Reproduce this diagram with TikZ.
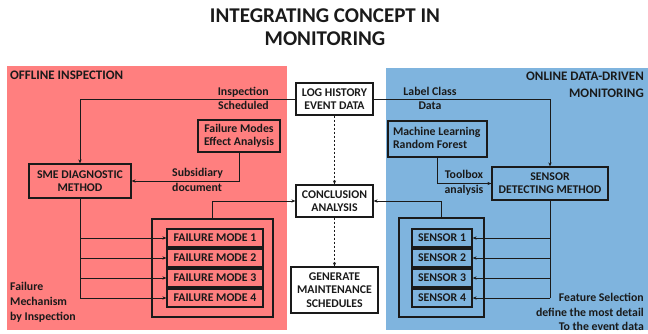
\documentclass[tikz,border=0pt]{standalone}
\usepackage{fontspec}
\setmainfont{Carlito}
\usetikzlibrary{arrows.meta}
\definecolor{offred}{HTML}{FF7F7F}
\definecolor{onblue}{HTML}{7FB4DE}
\definecolor{ink}{HTML}{1A1A1A}
\tikzset{
  txt/.style={font=\bfseries\fontsize{11.8}{13.3}\selectfont, text=ink, inner sep=0pt},
  note/.style={txt, font=\bfseries\fontsize{11.8}{14.8}\selectfont},
  head/.style={txt, font=\bfseries\fontsize{13}{17}\selectfont},
  box/.style={txt, draw=ink, line width=1.2pt, align=center, minimum width=#1},
  box/.default=60pt,
  link/.style={draw=ink, line width=0.9pt},
  arr/.style={link, -{Stealth[length=4pt,width=3.2pt]}},
  darr/.style={arr, dashed, dash pattern=on 2.5pt off 1.5pt},
}
\begin{document}
\begin{tikzpicture}[x=1pt,y=-1pt]
\useasboundingbox (0,0) rectangle (648,333);
% panels
\fill[offred] (7,66) rectangle (287,330);
\fill[onblue] (386,68) rectangle (648,330);

% title
\node[txt, font=\bfseries\fontsize{21}{23}\selectfont, align=center] (title) at (325,27)
  {INTEGRATING CONCEPT IN\\MONITORING};
\node[head, anchor=west] (offt) at (10,75.5) {OFFLINE INSPECTION};
\node[head, anchor=east, align=right] (ont) at (644,84.5) {ONLINE DATA-DRIVEN\\MONITORING};

% central column
\node[box=77pt, minimum height=32pt] (log) at (334.5,99) {LOG HISTORY\\EVENT DATA};
\node[box=77pt, minimum height=32pt] (concl) at (334.5,201) {CONCLUSION\\ANALYSIS};
\node[box=87pt, minimum height=46pt] (gen) at (334.5,290) {GENERATE\\MAINTENANCE\\SCHEDULES};

% offline side
\node[box=82pt, minimum height=32pt] (fmea) at (239,136) {Failure Modes\\Effect Analysis};
\node[box=102pt, minimum height=34pt] (sme) at (80,181) {SME DIAGNOSTIC\\METHOD};
\node[box=121pt, minimum height=98pt] (fmall) at (212.5,268) {};
\foreach \i/\y in {1/238,2/258,3/278,4/298}
  \node[box=96pt, minimum height=18pt] (fm\i) at (215,\y) {FAILURE MODE \i};

% online side
\node[box=99pt, minimum height=36pt, align=left] (ml) at (437.5,139) {Machine Learning\\Random Forest\phantom{ing}};
\node[box=116pt, minimum height=33pt] (sdet) at (550,183.5) {SENSOR\\DETECTING METHOD};
\node[box=85pt, minimum height=99pt] (snall) at (441.5,267.5) {};
\foreach \i/\y in {1/238,2/258,3/278,4/298}
  \node[box=60pt, minimum height=18pt] (sn\i) at (442,\y) {SENSOR \i};

% labels
\node[txt, anchor=east, align=right] (insp) at (269,98.5) {Inspection\\Scheduled};
\node[note, anchor=west, align=left] (subs) at (172,179.5) {Subsidiary\\document};
\node[txt, align=center] (lcd) at (430,98.5) {Label Class\\Data};
\node[note, align=center] (tbx) at (464,183) {Toolbox\\analysis};
\node[note, anchor=west, align=left] (fmech) at (10,302.5) {Failure\\Mechanism\\by Inspection};
\node[note, anchor=east, align=right] (fsel) at (644,312) {Feature Selection\\define the most detail\\To the event data};

% connectors
\draw[arr] (log.west) -| (sme.north);
\draw[arr] (fmea.south) |- (sme.east);
\draw[arr] (log.east) -| (sdet.north);
\draw[arr] (ml.south) |- (sdet.west);
\draw[darr] (log.south) -- (concl.north);
\draw[darr] (concl.south) -- (gen.north);
\draw[arr] (fmall.north) |- (concl.west);
\draw[arr] (snall.north) |- (concl.east);

\coordinate (smebot) at (sme.south |- fm4.west);
\draw[link] (sme.south) -- (smebot);
\foreach \i in {1,2,3,4}
  \draw[arr] (sme.south |- fm\i.west) -- (fm\i.west);

\coordinate (sdetbot) at (sdet.south |- sn4.east);
\draw[link] (sdet.south) -- (sdetbot);
\foreach \i in {1,2,3,4}
  \draw[arr] (sdet.south |- sn\i.east) -- (sn\i.east);
\end{tikzpicture}
\end{document}
